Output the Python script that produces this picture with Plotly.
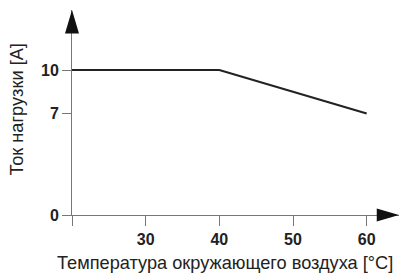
import plotly.graph_objects as go

# Data
temp_c = [20, 40, 60]
current_a = [10, 10, 7]
x_tick_vals = [20, 30, 40, 50, 60]
x_tick_text = ["", "30", "40", "50", "60"]
y_tick_vals = [0, 7, 10]
y_tick_text = ["0", "7", "10"]
x_title = "Температура окружающего воздуха [°C]"
y_title = "Ток нагрузки [A]"

axis_color = "#777777"
font_family = "Liberation Sans, Arial, sans-serif"

fig = go.Figure()
fig.add_trace(go.Scatter(
    x=temp_c, y=current_a, mode="lines",
    line=dict(color="#222222", width=2.2),
    hoverinfo="skip", showlegend=False,
))

# Arrow heads at axis ends (paper coordinates)
fig.add_shape(type="path", xref="paper", yref="paper",
              path="M 0,1 L -0.0214,0.885 L 0.0214,0.885 Z",
              fillcolor="#111111", line=dict(width=0))
fig.add_shape(type="path", xref="paper", yref="paper",
              path="M 1,0 L 0.932,-0.032 L 0.932,0.032 Z",
              fillcolor="#111111", line=dict(width=0))

# Axis titles
fig.add_annotation(text=x_title, xref="paper", yref="paper", x=0.468, y=-0.232,
                   xanchor="center", yanchor="middle", showarrow=False,
                   font=dict(size=18.2, family=font_family, color="#222222"))
fig.add_annotation(text=y_title, xref="paper", yref="paper", x=-0.168, y=0.515,
                   xanchor="center", yanchor="middle", showarrow=False, textangle=-90,
                   font=dict(size=18.2, family=font_family, color="#222222"))

fig.update_layout(
    width=408, height=279,
    margin=dict(l=72, r=9, t=10, b=64),
    paper_bgcolor="white", plot_bgcolor="white",
    font=dict(family=font_family, color="#222222"),
    xaxis=dict(
        range=[20, 64.39], tickvals=x_tick_vals, ticktext=x_tick_text,
        showgrid=False, zeroline=False, showline=True, linecolor=axis_color, linewidth=1,
        ticks="outside", ticklen=10, tickcolor=axis_color, tickwidth=1,
        tickfont=dict(size=16, family=font_family, weight="bold", color="#222222"),
        fixedrange=True,
    ),
    yaxis=dict(
        range=[0, 14.14], tickvals=y_tick_vals, ticktext=y_tick_text,
        showgrid=False, zeroline=False, showline=True, linecolor=axis_color, linewidth=1,
        ticks="outside", ticklen=9, tickcolor=axis_color, tickwidth=1,
        tickfont=dict(size=16, family=font_family, weight="bold", color="#222222"),
        fixedrange=True,
    ),
)

fig.write_html("out.html")
